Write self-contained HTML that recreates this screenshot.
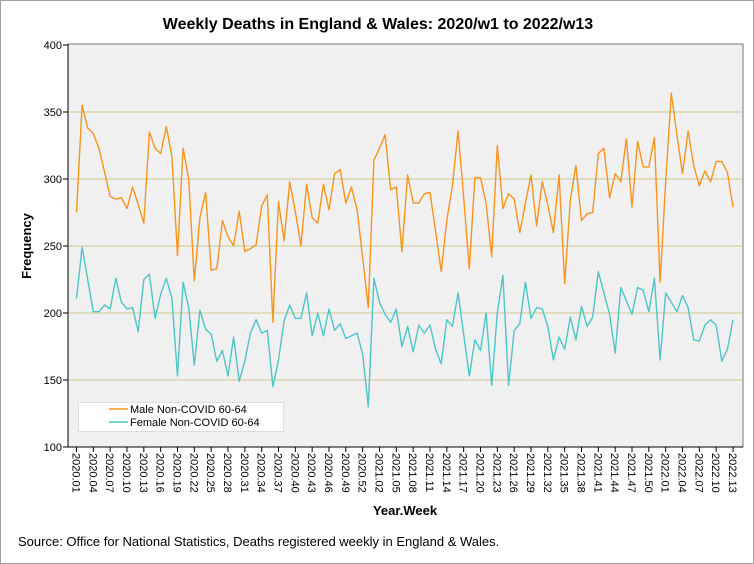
<!DOCTYPE html>
<html><head><meta charset="utf-8"><style>
body{margin:0;background:#fff;}
svg{display:block;font-family:"Liberation Sans",Arial,sans-serif;}
</style></head><body>
<svg id="chart" width="754" height="564" viewBox="0 0 754 564">
<rect x="0.5" y="0.5" width="753" height="563" fill="#fff" stroke="#a0a0a0"/>
<text x="378" y="29" text-anchor="middle" font-size="16" font-weight="bold">Weekly Deaths in England &amp; Wales: 2020/w1 to 2022/w13</text>
<rect x="68" y="44" width="675" height="403" fill="#f0f0f0" stroke="#777"/>
<g id="grid"></g>
<g id="series"></g>
<line x1="68" y1="44" x2="68" y2="447" stroke="#000"/>
<line x1="68" y1="447" x2="743" y2="447" stroke="#000"/>
<g id="yticks"></g>
<g id="xticks"></g>
<text transform="translate(31,246) rotate(-90)" text-anchor="middle" font-size="13" font-weight="bold">Frequency</text>
<text x="405" y="515" text-anchor="middle" font-size="13" font-weight="bold">Year.Week</text>
<text x="18" y="546" font-size="13">Source: Office for National Statistics, Deaths registered weekly in England &amp; Wales.</text>
<g>
<rect x="78.5" y="402.5" width="205" height="29" fill="#fff" stroke="#ddd"/>
<line x1="109" y1="409" x2="128" y2="409" stroke="#f7941d" stroke-width="1.5"/>
<text x="130" y="413" font-size="11">Male Non-COVID 60-64</text>
<line x1="109" y1="422" x2="128" y2="422" stroke="#4ec5c8" stroke-width="1.5"/>
<text x="130" y="426" font-size="11">Female Non-COVID 60-64</text>
</g>
</svg>
<script>
const maleValues=[275,355,338,334,323,305,287,285,286,278,294,281,267,335,323,319,339,317,243,323,300,224,271,290,232,233,269,257,250,276,246,248,251,280,288,193,283,254,298,276,250,296,271,267,296,277,304,307,282,294,277,241,204,314,323,333,292,294,246,303,282,282,289,290,261,231,269,295,336,286,233,301,301,282,242,325,278,289,285,260,282,303,265,298,281,260,303,222,284,310,269,274,275,319,323,286,304,298,330,279,328,309,309,331,223,298,364,333,304,336,310,295,306,298,313,313,305,279];
const femaleValues=[211,249,225,201,201,206,203,226,208,203,204,186,225,229,196,214,226,211,153,223,204,161,202,188,184,164,172,153,182,149,164,185,195,185,187,145,165,194,206,196,196,215,183,200,183,203,187,192,181,183,185,169,130,226,208,199,193,203,175,190,171,191,185,191,173,162,195,190,215,184,153,180,172,200,146,200,228,146,187,192,223,196,204,203,190,165,182,173,197,180,205,190,197,231,215,199,170,219,209,199,219,217,201,226,165,215,208,201,213,204,180,179,191,195,191,164,173,195];
const yTicks=[100,150,200,250,300,350,400];
const gridVals=[150,200,250,300,350];
function weekLabel(i){let y,w;if(i<53){y=2020;w=i+1;}else if(i<105){y=2021;w=i-52;}else{y=2022;w=i-104;}return y+'.'+String(w).padStart(2,'0');}
const xLabels=[];for(let i=0;i<maleValues.length;i+=3)xLabels.push(weekLabel(i));
const NS='http://www.w3.org/2000/svg';
const xs=i=>76.5+i*(733-76.5)/117;
const ys=v=>447-(v-100)*(402/300);
function mk(tag,attrs,parent){const e=document.createElementNS(NS,tag);for(const k in attrs)e.setAttribute(k,attrs[k]);parent.appendChild(e);return e;}
const grid=document.getElementById('grid');
gridVals.forEach(v=>{const l=mk('line',{x1:69,x2:742,y1:ys(v),y2:ys(v),stroke:'#d8d0a4','stroke-width':1.2},grid);

});
const yt=document.getElementById('yticks');
yTicks.forEach(v=>{const l=mk('line',{x1:63,x2:68,y1:ys(v),y2:ys(v),stroke:'#000'},yt);


const t=mk('text',{x:62,y:ys(v)+4,'text-anchor':'end','font-size':11},yt);t.textContent=v;

});
const xt=document.getElementById('xticks');
xLabels.forEach((lab,k)=>{const x=xs(k*3);const l=mk('line',{x1:x,x2:x,y1:447,y2:452,stroke:'#000'},xt);


const t=mk('text',{transform:`translate(${x-4},453) rotate(90)`,'font-size':11},xt);t.textContent=lab;

});
const sg=document.getElementById('series');
function line(vals,color,name){const d=vals.map((v,i)=>(i?'L':'M')+xs(i).toFixed(1)+' '+ys(v).toFixed(1)).join(' ');
const p=mk('path',{d:d,fill:'none',stroke:color,'stroke-width':1.4,'stroke-linejoin':'round'},sg);

}
line(maleValues,'#f7941d','male-series-line');
line(femaleValues,'#4ec5c8','female-series-line');
</script>
</body></html>
